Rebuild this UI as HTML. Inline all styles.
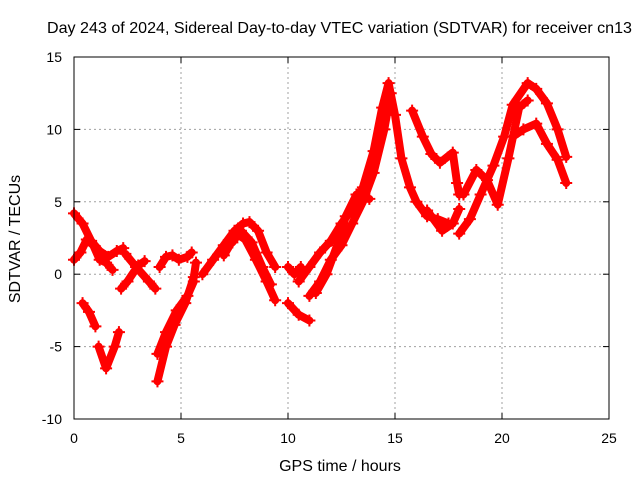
<!DOCTYPE html>
<html><head><meta charset="utf-8"><style>
body{margin:0;background:#fff;}
svg text{font-family:"Liberation Sans",sans-serif;font-size:14px;fill:#000;}
svg text.big{font-size:16px;}
</style></head><body>
<svg id="chart" width="640" height="480" xmlns="http://www.w3.org/2000/svg">
<text class="big" x="47" y="33" textLength="585" lengthAdjust="spacingAndGlyphs">Day 243 of 2024, Sidereal Day-to-day VTEC variation (SDTVAR) for receiver cn13</text>
<text class="big" x="340" y="471" text-anchor="middle">GPS time / hours</text>
<text class="big" x="20" y="239" text-anchor="middle" transform="rotate(-90 20 239)">SDTVAR / TECUs</text>
<g id="grid"></g><g id="marks"></g><g id="axes"></g>
</svg>
<script>
const xTicks=[0,5,10,15,20,25];
const yTicks=[-10,-5,0,5,10,15];
const track1=[[0,4.2],[0.4,3.5],[0.8,2.3],[1.2,1.6],[1.6,1.2],[2.0,1.6],[2.3,1.8]];
const track2=[[0,1.0],[0.3,1.5],[0.6,2.4],[0.9,2.0],[1.2,1.0],[1.5,0.8],[1.8,0.3]];
const track3=[[2.4,1.4],[2.9,0.5],[3.5,-0.5],[3.8,-1]];
const track4=[[2.2,-1],[2.5,-0.5],[3,0.6],[3.3,0.9]];
const track5=[[0.4,-2],[0.7,-2.6],[1.0,-3.6]];
const track6=[[1.15,-5],[1.5,-6.5],[1.9,-5],[2.1,-4]];
const track7=[[3.9,-7.4],[4.3,-5],[4.7,-3.5],[5.2,-2],[5.6,-0.2],[5.7,0.8]];
const track8=[[3.9,-5.5],[4.3,-4],[4.8,-2.5],[5.3,-1.5],[5.6,-0.5]];
const track9=[[4.0,0.5],[4.3,1.2],[4.6,1.3],[4.9,1.0],[5.3,1.2],[5.5,1.5]];
const track10=[[6,0],[6.5,1],[7,2],[7.5,3],[7.9,3.5],[8.2,3.6],[8.6,3],[9,1.5],[9.4,0.5]];
const track11=[[7,1.3],[7.6,2.8],[8,2.4],[8.5,1],[9,-0.5],[9.4,-1.8]];
const track12=[[7.4,2.2],[7.8,3],[8.3,2.2],[8.8,0.5],[9.2,-0.7]];
const track13=[[10,0.5],[10.3,0],[10.6,0.5]];
const track14=[[10,-2],[10.5,-2.8],[11,-3.2]];
const track15=[[10.5,-0.5],[11,0.5],[11.5,1.5],[12,2.3],[12.5,3.5],[13,4.5],[13.5,6],[14,8.5],[14.4,11.5],[14.7,13.2],[15,11],[15.3,8],[15.7,6],[16,5],[16.5,4],[17,3.8],[17.5,3.5]];
const track16=[[11,-1.5],[11.5,-0.5],[12,1],[12.5,2],[13,3.5],[13.5,5],[14,7],[14.5,10],[14.8,12.5]];
const track17=[[11.3,-1.3],[11.8,0],[12.3,2],[12.7,4],[13.2,5.5],[13.8,5.2]];
const track18=[[15.8,11.3],[16.3,9.5],[16.7,8.3],[17.1,7.7],[17.7,8.4],[17.9,6.3],[18.0,5.5]];
const track19=[[16.5,4.4],[17.2,3],[17.7,3.5],[18.0,4.5]];
const track20=[[18.0,2.8],[18.5,3.8],[19,5.5],[19.6,7.5],[20.1,9.5],[20.5,11.7],[21.2,13.2],[21.6,12.8],[22.1,11.8],[22.6,10],[23,8.1]];
const track21=[[18.2,5.5],[18.8,7.2],[19.3,6.5],[19.8,4.8],[20.3,8],[20.8,11.5],[21.2,12]];
const track22=[[20.5,9.5],[21,10],[21.6,10.4],[22.1,9],[22.6,7.9],[23,6.3]];
const tracks=[track1,track2,track3,track4,track5,track6,track7,track8,track9,track10,track11,track12,track13,track14,track15,track16,track17,track18,track19,track20,track21,track22];
const L=74,R=609,T=57,B=419,x0=0,x1=25,y0=-10,y1=15;
const sx=v=>L+(v-x0)/(x1-x0)*(R-L);
const sy=v=>B-(v-y0)/(y1-y0)*(B-T);
const NS="http://www.w3.org/2000/svg";
function mk(tag,attrs,parent){const e=document.createElementNS(NS,tag);for(const k in attrs)e.setAttribute(k,attrs[k]);parent.appendChild(e);return e;}
const grid=document.getElementById('grid'),axes=document.getElementById('axes'),marks=document.getElementById('marks');
xTicks.forEach(t=>{
 if(t>x0&&t<x1){const g=mk('line',{x1:sx(t),x2:sx(t),y1:T,y2:B,stroke:'#a0a0a0','stroke-dasharray':'2,3'},grid);
 
 }
 mk('line',{x1:sx(t),x2:sx(t),y1:B,y2:B-6,stroke:'#000'},axes);
 mk('line',{x1:sx(t),x2:sx(t),y1:T,y2:T+6,stroke:'#000'},axes);
 const tx=mk('text',{x:sx(t),y:B+24,'text-anchor':'middle'},axes);tx.textContent=t;
 
 
});
yTicks.forEach(t=>{
 if(t>y0&&t<y1){const g=mk('line',{x1:L,x2:R,y1:sy(t),y2:sy(t),stroke:'#a0a0a0','stroke-dasharray':'2,3'},grid);
 
 }
 mk('line',{x1:L,x2:L+6,y1:sy(t),y2:sy(t),stroke:'#000'},axes);
 mk('line',{x1:R,x2:R-6,y1:sy(t),y2:sy(t),stroke:'#000'},axes);
 const tx=mk('text',{x:L-12,y:sy(t)+5,'text-anchor':'end'},axes);tx.textContent=t;
 
 
});
const fr=mk('rect',{x:L,y:T,width:R-L,height:B-T,fill:'none',stroke:'#000','stroke-width':1},axes);


tracks.forEach(tr=>{
 const p=mk('polyline',{points:tr.map(d=>sx(d[0])+','+sy(d[1])).join(' '),fill:'none',stroke:'#ff0000','stroke-width':8,'stroke-linejoin':'round','stroke-linecap':'round'},marks);
 
 
 tr.forEach(d=>{
  const m=mk('path',{d:`M${sx(d[0])-6},${sy(d[1])}h12M${sx(d[0])},${sy(d[1])-6}v12`,stroke:'#ff0000','stroke-width':2},marks);
  
  
 });
});
</script>
</body></html>
